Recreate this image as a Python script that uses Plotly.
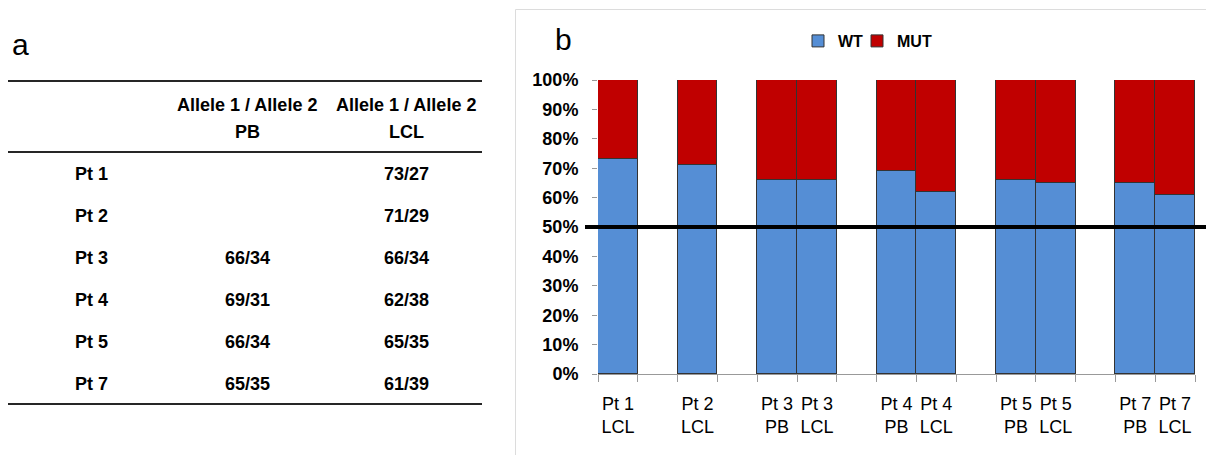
import plotly.graph_objects as go

PAGE_W, PAGE_H = 1214, 455
BODY_MARGIN = 8  # default browser body margin around the plot div
W, H = PAGE_W - BODY_MARGIN, PAGE_H - BODY_MARGIN
FONT = "Liberation Sans, Arial, sans-serif"

# ---------------- data ----------------
# Panel a: table
table_patients = ["Pt 1", "Pt 2", "Pt 3", "Pt 4", "Pt 5", "Pt 7"]
table_pb = ["", "", "66/34", "69/31", "66/34", "65/35"]
table_lcl = ["73/27", "71/29", "66/34", "62/38", "65/35", "61/39"]
table_header_top = "Allele 1 / Allele 2"
table_header_cols = ["PB", "LCL"]

# Panel b: stacked bars
bar_labels = ["Pt 1<br>LCL", "Pt 2<br>LCL", "Pt 3<br>PB", "Pt 3<br>LCL",
              "Pt 4<br>PB", "Pt 4<br>LCL", "Pt 5<br>PB", "Pt 5<br>LCL",
              "Pt 7<br>PB", "Pt 7<br>LCL"]
wt_pct = [73, 71, 66, 66, 69, 62, 66, 65, 65, 61]
mut_pct = [27, 29, 34, 34, 31, 38, 34, 35, 35, 39]
# axis order including empty slots between patients
axis_slots = ["Pt 1<br>LCL", " ", "Pt 2<br>LCL", "  ", "Pt 3<br>PB", "Pt 3<br>LCL",
              "   ", "Pt 4<br>PB", "Pt 4<br>LCL", "    ", "Pt 5<br>PB", "Pt 5<br>LCL",
              "     ", "Pt 7<br>PB", "Pt 7<br>LCL"]
y_tick_vals = [0, 10, 20, 30, 40, 50, 60, 70, 80, 90, 100]
y_tick_text = ["0%", "10%", "20%", "30%", "40%", "50%", "60%", "70%", "80%", "90%", "100%"]
threshold = 50

WT_COLOR = "#558ED5"
MUT_COLOR = "#C00000"


def px(x):
    """page pixel x -> paper fraction"""
    return (x - BODY_MARGIN) / W


def py(y):
    """page pixel y -> paper fraction"""
    return 1 - (y - BODY_MARGIN) / H


fig = go.Figure()
fig.add_trace(go.Bar(x=bar_labels, y=wt_pct, name="WT", legend="legend",
                     marker=dict(color=WT_COLOR, line=dict(color="#333333", width=1))))
fig.add_trace(go.Bar(x=bar_labels, y=mut_pct, name="MUT", legend="legend2",
                     marker=dict(color=MUT_COLOR, line=dict(color="#333333", width=1))))

annotations = []
shapes = []

# panel letters
annotations.append(dict(text="a", x=px(10), y=py(44), xref="paper", yref="paper",
                        xanchor="left", yanchor="middle", showarrow=False,
                        font=dict(family=FONT, size=30, color="black")))
annotations.append(dict(text="b", x=px(553), y=py(40), xref="paper", yref="paper",
                        xanchor="left", yanchor="middle", showarrow=False,
                        font=dict(family=FONT, size=30, color="black")))

# table
bold = dict(family=FONT, size=18, color="black", weight="bold")
col_x = [247, 406]
for cx, sub in zip(col_x, table_header_cols):
    annotations.append(dict(text=table_header_top, x=px(cx), y=py(105), xref="paper", yref="paper",
                            xanchor="center", yanchor="middle", showarrow=False, font=bold))
    annotations.append(dict(text=sub, x=px(cx), y=py(132), xref="paper", yref="paper",
                            xanchor="center", yanchor="middle", showarrow=False, font=bold))
row_y0, row_pitch = 174, 42
for i, (p, pb, lcl) in enumerate(zip(table_patients, table_pb, table_lcl)):
    yy = py(row_y0 + i * row_pitch)
    annotations.append(dict(text=p, x=px(73), y=yy, xref="paper", yref="paper",
                            xanchor="left", yanchor="middle", showarrow=False, font=bold))
    if pb:
        annotations.append(dict(text=pb, x=px(col_x[0]), y=yy, xref="paper", yref="paper",
                                xanchor="center", yanchor="middle", showarrow=False, font=bold))
    if lcl:
        annotations.append(dict(text=lcl, x=px(col_x[1]), y=yy, xref="paper", yref="paper",
                                xanchor="center", yanchor="middle", showarrow=False, font=bold))
for ry in [81, 152, 404]:
    shapes.append(dict(type="line", xref="paper", yref="paper", x0=px(7), x1=px(482),
                       y0=py(ry), y1=py(ry), line=dict(color="#262626", width=2)))

# panel b frame
shapes.append(dict(type="rect", xref="paper", yref="paper", x0=px(515.5), x1=1.01,
                   y0=-0.01, y1=py(9.5), line=dict(color="#dcdcdc", width=1), layer="below"))

# 50% reference line
shapes.append(dict(type="line", xref="paper", yref="y", x0=px(585), x1=1.0,
                   y0=threshold, y1=threshold, line=dict(color="black", width=4), layer="above"))

legend_font = dict(family=FONT, size=16, color="black", weight="bold")
fig.update_layout(
    template="none",
    width=W, height=H,
    margin=dict(l=0, r=0, t=0, b=0),
    paper_bgcolor="white", plot_bgcolor="white",
    barmode="stack", bargap=0,
    font=dict(family=FONT, color="black"),
    annotations=annotations, shapes=shapes,
    showlegend=True,
    legend=dict(orientation="h", x=px(798), y=py(41), xanchor="left", yanchor="middle",
                itemwidth=30, font=legend_font, bgcolor="rgba(0,0,0,0)"),
    legend2=dict(orientation="h", x=px(857), y=py(41), xanchor="left", yanchor="middle",
                 itemwidth=30, font=legend_font, bgcolor="rgba(0,0,0,0)"),
    xaxis=dict(domain=[px(598), px(1195)], type="category",
               categoryorder="array", categoryarray=axis_slots,
               range=[-0.5, len(axis_slots) - 0.5],
               tickson="boundaries", ticks="outside", ticklen=7, tickcolor="#999999",
               showline=True, linecolor="#999999", linewidth=1, tickangle=0,
               showgrid=False, ticklabelstandoff=13, automargin=False,
               tickfont=dict(family=FONT, size=18, color="black")),
    yaxis=dict(domain=[py(374), py(80)], range=[0, 100],
               tickmode="array", tickvals=y_tick_vals, ticktext=y_tick_text,
               ticks="outside", ticklen=5, tickcolor="#999999",
               showline=False, showgrid=False, zeroline=False, ticklabelstandoff=10,
               automargin=False,
               tickfont=dict(family=FONT, size=18, color="black", weight="bold")),
)

fig.write_html("out.html")
